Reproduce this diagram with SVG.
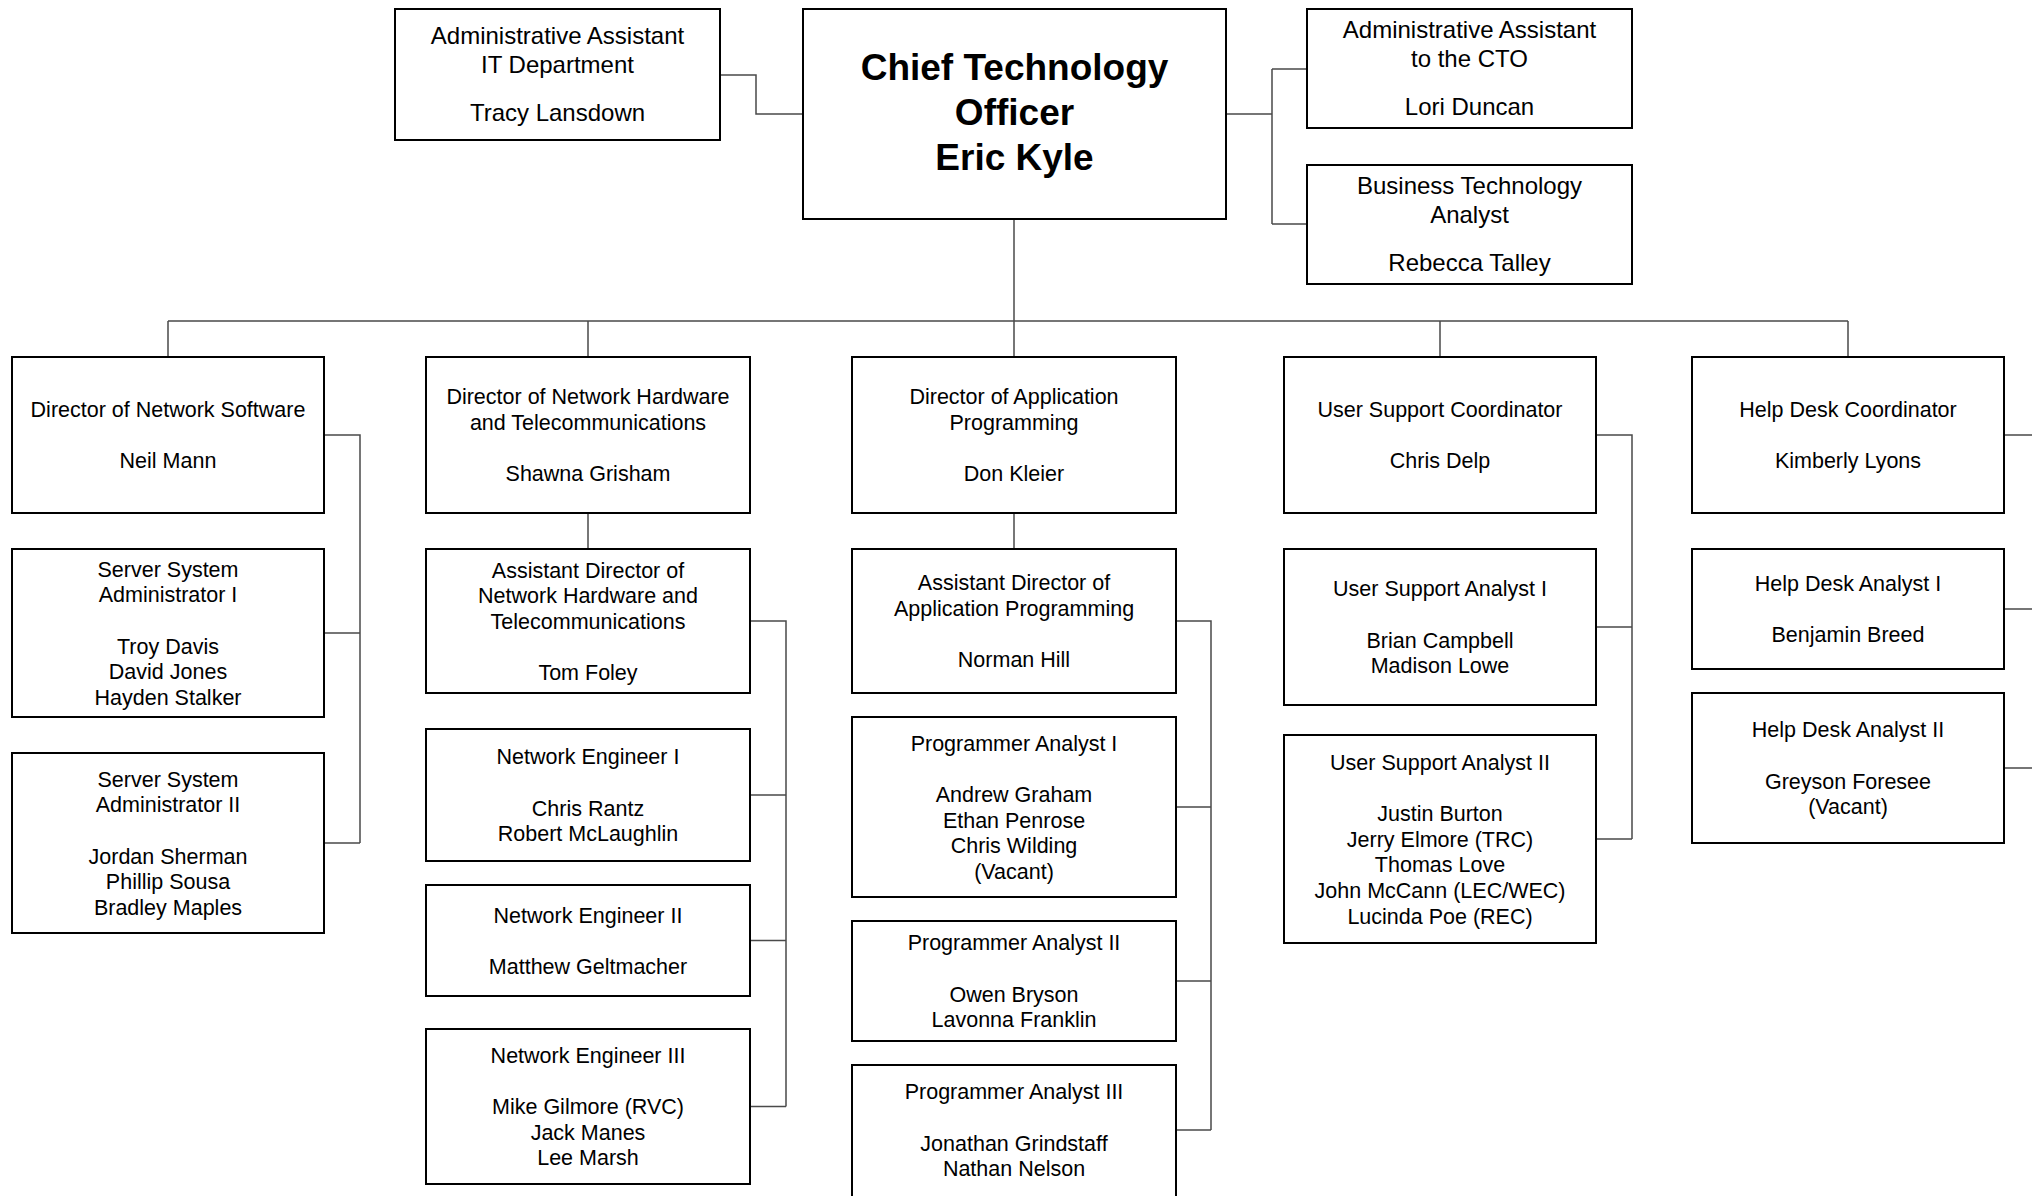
<svg xmlns="http://www.w3.org/2000/svg" width="2032" height="1196" viewBox="0 0 2032 1196">
<style>
.box{fill:#fff;stroke:#000;stroke-width:2}
.t{font-family:"Liberation Sans",Arial,sans-serif;font-size:21.5px;text-anchor:middle;fill:#000}
.tt{font-size:24px}
.ceo{font-weight:bold;font-size:37px}
.conn{fill:none;stroke:#4a4a4a;stroke-width:1.5}
</style>
<rect x="0" y="0" width="2032" height="1196" fill="#fff"/>
<g id="connectors" class="conn">
<path d="M720,75 H756 V114 H803"/>
<path d="M1226,114 H1272 M1272,69 V224 M1272,69 H1307 M1272,224 H1307"/>
<path d="M1014,219 V321"/>
<path d="M168,321 H1848 M168,321 V357 M588,321 V357 M1014,321 V357 M1440,321 V357 M1848,321 V357"/>
<path d="M324,435 H360 V843 M324,633 H360 M324,843 H360"/>
<path d="M588,513 V549"/>
<path d="M750,621 H786 V1106.5 M750,795 H786 M750,940.5 H786 M750,1106.5 H786"/>
<path d="M1014,513 V549"/>
<path d="M1176,621 H1211 V1130 M1176,807 H1211 M1176,981 H1211 M1176,1130 H1211"/>
<path d="M1596,435 H1632 V839 M1596,627 H1632 M1596,839 H1632"/>
<path d="M2004,435 H2040 V768 M2004,609 H2040 M2004,768 H2040"/>
</g>
<g id="cto">
<rect class="box" x="803" y="9" width="423" height="210"/>
<text class="t ceo"><tspan x="1014.5" y="80">Chief Technology</tspan><tspan x="1014.5" y="125">Officer</tspan><tspan x="1014.5" y="170">Eric Kyle</tspan></text>
</g>
<g id="admin-it">
<rect class="box" x="395" y="9" width="325" height="131"/>
<text class="t tt"><tspan x="557.5" y="44">Administrative Assistant</tspan><tspan x="557.5" y="73">IT Department</tspan><tspan x="557.5" y="121">Tracy Lansdown</tspan></text>
</g>
<g id="admin-cto">
<rect class="box" x="1307" y="9" width="325" height="119"/>
<text class="t tt"><tspan x="1469.5" y="38">Administrative Assistant</tspan><tspan x="1469.5" y="67">to the CTO</tspan><tspan x="1469.5" y="115">Lori Duncan</tspan></text>
</g>
<g id="bta">
<rect class="box" x="1307" y="165" width="325" height="119"/>
<text class="t tt"><tspan x="1469.5" y="194">Business Technology</tspan><tspan x="1469.5" y="223">Analyst</tspan><tspan x="1469.5" y="271">Rebecca Talley</tspan></text>
</g>
<g id="dir-net-software">
<rect class="box" x="12" y="357" width="312" height="156"/>
<text class="t"><tspan x="168" y="417.1">Director of Network Software</tspan><tspan x="168" y="468.3">Neil Mann</tspan></text>
</g>
<g id="ssa1">
<rect class="box" x="12" y="549" width="312" height="168"/>
<text class="t"><tspan x="168" y="576.7">Server System</tspan><tspan x="168" y="602.3">Administrator I</tspan><tspan x="168" y="653.5">Troy Davis</tspan><tspan x="168" y="679.1">David Jones</tspan><tspan x="168" y="704.7">Hayden Stalker</tspan></text>
</g>
<g id="ssa2">
<rect class="box" x="12" y="753" width="312" height="180"/>
<text class="t"><tspan x="168" y="786.7">Server System</tspan><tspan x="168" y="812.3">Administrator II</tspan><tspan x="168" y="863.5">Jordan Sherman</tspan><tspan x="168" y="889.1">Phillip Sousa</tspan><tspan x="168" y="914.7">Bradley Maples</tspan></text>
</g>
<g id="dir-net-hardware">
<rect class="box" x="426" y="357" width="324" height="156"/>
<text class="t"><tspan x="588" y="404.3">Director of Network Hardware</tspan><tspan x="588" y="429.9">and Telecommunications</tspan><tspan x="588" y="481.1">Shawna Grisham</tspan></text>
</g>
<g id="asst-dir-net-hardware">
<rect class="box" x="426" y="549" width="324" height="144"/>
<text class="t"><tspan x="588" y="577.5">Assistant Director of</tspan><tspan x="588" y="603.1">Network Hardware and</tspan><tspan x="588" y="628.7">Telecommunications</tspan><tspan x="588" y="679.9">Tom Foley</tspan></text>
</g>
<g id="ne1">
<rect class="box" x="426" y="729" width="324" height="132"/>
<text class="t"><tspan x="588" y="764.3">Network Engineer I</tspan><tspan x="588" y="815.5">Chris Rantz</tspan><tspan x="588" y="841.1">Robert McLaughlin</tspan></text>
</g>
<g id="ne2">
<rect class="box" x="426" y="885" width="324" height="111"/>
<text class="t"><tspan x="588" y="922.6">Network Engineer II</tspan><tspan x="588" y="973.8">Matthew Geltmacher</tspan></text>
</g>
<g id="ne3">
<rect class="box" x="426" y="1029" width="324" height="155"/>
<text class="t"><tspan x="588" y="1063">Network Engineer III</tspan><tspan x="588" y="1114.2">Mike Gilmore (RVC)</tspan><tspan x="588" y="1139.8">Jack Manes</tspan><tspan x="588" y="1165.4">Lee Marsh</tspan></text>
</g>
<g id="dir-app-prog">
<rect class="box" x="852" y="357" width="324" height="156"/>
<text class="t"><tspan x="1014" y="404.3">Director of Application</tspan><tspan x="1014" y="429.9">Programming</tspan><tspan x="1014" y="481.1">Don Kleier</tspan></text>
</g>
<g id="asst-dir-app-prog">
<rect class="box" x="852" y="549" width="324" height="144"/>
<text class="t"><tspan x="1014" y="590.3">Assistant Director of</tspan><tspan x="1014" y="615.9">Application Programming</tspan><tspan x="1014" y="667.1">Norman Hill</tspan></text>
</g>
<g id="pa1">
<rect class="box" x="852" y="717" width="324" height="180"/>
<text class="t"><tspan x="1014" y="750.7">Programmer Analyst I</tspan><tspan x="1014" y="801.9">Andrew Graham</tspan><tspan x="1014" y="827.5">Ethan Penrose</tspan><tspan x="1014" y="853.1">Chris Wilding</tspan><tspan x="1014" y="878.7">(Vacant)</tspan></text>
</g>
<g id="pa2">
<rect class="box" x="852" y="921" width="324" height="120"/>
<text class="t"><tspan x="1014" y="950.3">Programmer Analyst II</tspan><tspan x="1014" y="1001.5">Owen Bryson</tspan><tspan x="1014" y="1027.1">Lavonna Franklin</tspan></text>
</g>
<g id="pa3">
<rect class="box" x="852" y="1065" width="324" height="132"/>
<text class="t"><tspan x="1014" y="1099.3">Programmer Analyst III</tspan><tspan x="1014" y="1150.5">Jonathan Grindstaff</tspan><tspan x="1014" y="1176.1">Nathan Nelson</tspan></text>
</g>
<g id="us-coord">
<rect class="box" x="1284" y="357" width="312" height="156"/>
<text class="t"><tspan x="1440" y="417.1">User Support Coordinator</tspan><tspan x="1440" y="468.3">Chris Delp</tspan></text>
</g>
<g id="usa1">
<rect class="box" x="1284" y="549" width="312" height="156"/>
<text class="t"><tspan x="1440" y="596.3">User Support Analyst I</tspan><tspan x="1440" y="647.5">Brian Campbell</tspan><tspan x="1440" y="673.1">Madison Lowe</tspan></text>
</g>
<g id="usa2">
<rect class="box" x="1284" y="735" width="312" height="208"/>
<text class="t"><tspan x="1440" y="769.9">User Support Analyst II</tspan><tspan x="1440" y="821.1">Justin Burton</tspan><tspan x="1440" y="846.7">Jerry Elmore (TRC)</tspan><tspan x="1440" y="872.3">Thomas Love</tspan><tspan x="1440" y="897.9">John McCann (LEC/WEC)</tspan><tspan x="1440" y="923.5">Lucinda Poe (REC)</tspan></text>
</g>
<g id="hd-coord">
<rect class="box" x="1692" y="357" width="312" height="156"/>
<text class="t"><tspan x="1848" y="417.1">Help Desk Coordinator</tspan><tspan x="1848" y="468.3">Kimberly Lyons</tspan></text>
</g>
<g id="hda1">
<rect class="box" x="1692" y="549" width="312" height="120"/>
<text class="t"><tspan x="1848" y="591.1">Help Desk Analyst I</tspan><tspan x="1848" y="642.3">Benjamin Breed</tspan></text>
</g>
<g id="hda2">
<rect class="box" x="1692" y="693" width="312" height="150"/>
<text class="t"><tspan x="1848" y="737.3">Help Desk Analyst II</tspan><tspan x="1848" y="788.5">Greyson Foresee</tspan><tspan x="1848" y="814.1">(Vacant)</tspan></text>
</g>
</svg>
